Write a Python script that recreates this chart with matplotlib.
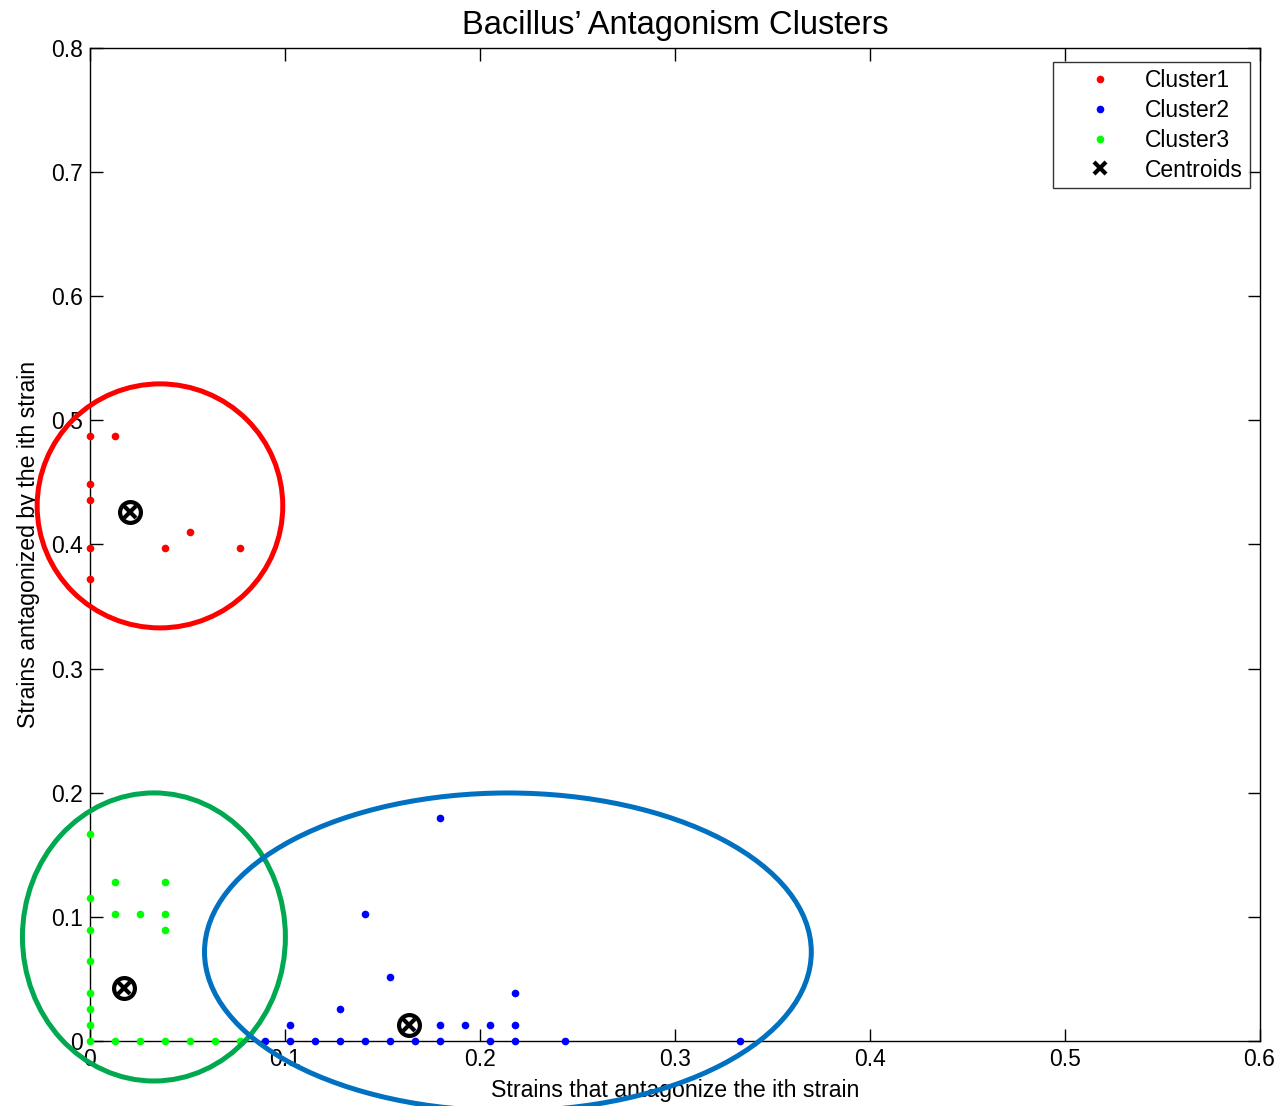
import matplotlib
matplotlib.use("Agg")
import matplotlib.pyplot as plt
from matplotlib.patches import Ellipse

plt.rcParams["font.family"] = ["Liberation Sans", "DejaVu Sans"]

# Cluster members (fraction of strains)
c1_x = [0.0, 0.0128, 0.0, 0.0, 0.0, 0.0, 0.0385, 0.0513, 0.0769]
c1_y = [0.4872, 0.4872, 0.4487, 0.4359, 0.3974, 0.3718, 0.3974, 0.4103, 0.3974]

c2_x = [0.0897, 0.1026, 0.1154, 0.1282, 0.1410, 0.1538, 0.1667, 0.1795, 0.2051, 0.2179,
        0.2436, 0.3333, 0.1026, 0.1795, 0.1923, 0.2051, 0.2179, 0.1282, 0.1538, 0.1410,
        0.1795, 0.2179]
c2_y = [0.0, 0.0, 0.0, 0.0, 0.0, 0.0, 0.0, 0.0, 0.0, 0.0,
        0.0, 0.0, 0.0128, 0.0128, 0.0128, 0.0128, 0.0128, 0.0256, 0.0513, 0.1026,
        0.1795, 0.0385]

c3_x = [0.0, 0.0, 0.0, 0.0, 0.0, 0.0, 0.0, 0.0, 0.0128, 0.0385, 0.0128, 0.0256, 0.0385,
        0.0385, 0.0128, 0.0256, 0.0385, 0.0513, 0.0641, 0.0769]
c3_y = [0.1667, 0.1154, 0.0897, 0.0641, 0.0385, 0.0256, 0.0128, 0.0, 0.1282, 0.1282,
        0.1026, 0.1026, 0.1026, 0.0897, 0.0, 0.0, 0.0, 0.0, 0.0, 0.0]

cent_x = [0.0205, 0.1636, 0.0174]
cent_y = [0.4260, 0.0130, 0.0424]

x_ticks = [0, 0.1, 0.2, 0.3, 0.4, 0.5, 0.6]
x_tick_labels = ["0", "0.1", "0.2", "0.3", "0.4", "0.5", "0.6"]
y_ticks = [0, 0.1, 0.2, 0.3, 0.4, 0.5, 0.6, 0.7, 0.8]
y_tick_labels = ["0", "0.1", "0.2", "0.3", "0.4", "0.5", "0.6", "0.7", "0.8"]

fig = plt.figure(figsize=(12.8, 11.06), dpi=100)
ax = fig.add_axes([0.0703, 0.0588, 0.9137, 0.8978])

ax.plot(c1_x, c1_y, "o", color="#ff0000", markersize=5.5, markeredgewidth=0,
        label="Cluster1", clip_on=False, zorder=3)
ax.plot(c2_x, c2_y, "o", color="#0000ff", markersize=5.5, markeredgewidth=0,
        label="Cluster2", clip_on=False, zorder=3)
ax.plot(c3_x, c3_y, "o", color="#00ff00", markersize=5.5, markeredgewidth=0,
        label="Cluster3", clip_on=False, zorder=3)
ax.plot(cent_x, cent_y, "o", markerfacecolor="none", markeredgecolor="black",
        markersize=15, markeredgewidth=3, zorder=4)
ax.plot(cent_x, cent_y, "x", color="black", markersize=9, markeredgewidth=3,
        label="Centroids", zorder=4)

# Hand-drawn cluster outlines
outlines = [
    ((0.0359, 0.4311), 0.126, 0.1966, "#ff0000"),
    ((0.0328, 0.0838), 0.1349, 0.2321, "#00a84f"),
    ((0.2144, 0.0717), 0.3113, 0.2562, "#0070c0"),
]
for center, w, h, col in outlines:
    ax.add_patch(Ellipse(center, w, h, fill=False, edgecolor=col, linewidth=3.6,
                         clip_on=False, zorder=5))

ax.set_xlim(0, 0.6)
ax.set_ylim(0, 0.8)
ax.set_xticks(x_ticks)
ax.set_xticklabels(x_tick_labels)
ax.set_yticks(y_ticks)
ax.set_yticklabels(y_tick_labels)
ax.tick_params(direction="in", length=9, width=1, top=True, right=True,
               labelsize=16.5, pad=5)
for s in ax.spines.values():
    s.set_linewidth(1)

ax.set_title("Bacillus\u2019 Antagonism Clusters", fontsize=23.5, pad=10)
ax.set_xlabel("Strains that antagonize the ith strain", fontsize=16.7, labelpad=6)
ax.set_ylabel("Strains antagonized by the ith strain", fontsize=16.7, labelpad=8)

leg = ax.legend(loc="upper right", fontsize=16.5, frameon=True, fancybox=False,
                edgecolor="black", borderaxespad=0, handletextpad=0.2,
                handlelength=3.5, labelspacing=0.3, borderpad=0.3,
                bbox_to_anchor=(0.9915, 0.9859))
leg.get_frame().set_linewidth(1)

fig.savefig("out.png", dpi=100)
